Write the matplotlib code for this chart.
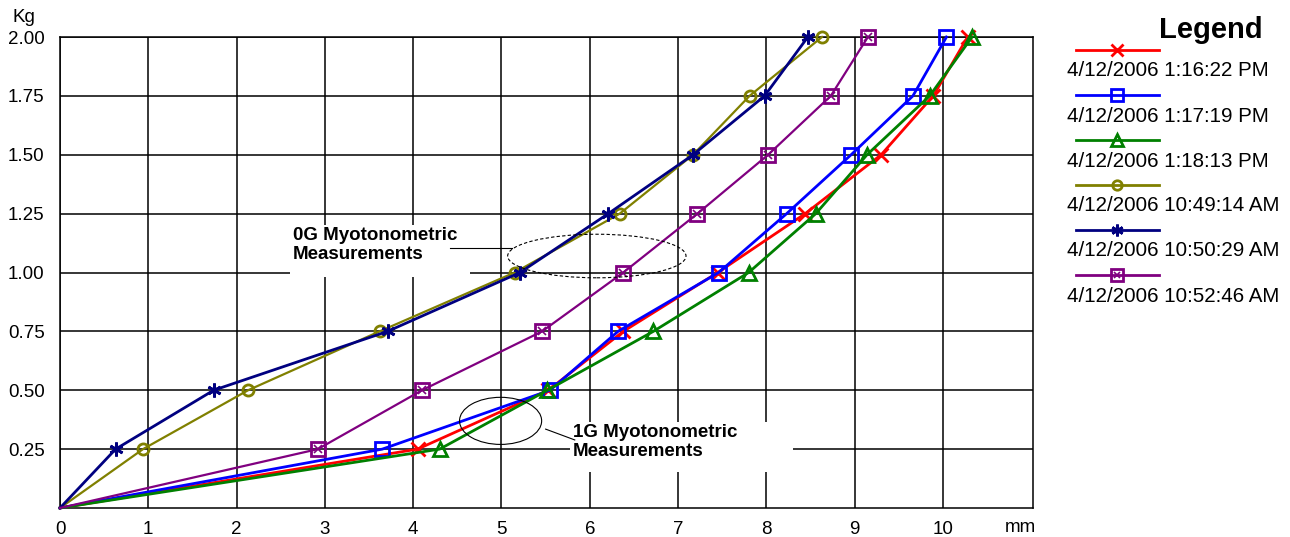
#!/usr/bin/env python
# -*- coding: utf-8 -*-
# Filename: plot.py

"""
DESCRIPTION:
Myotonometric force/displacement curves (Kg vs mm) for six
measurements, with 0G / 1G annotations and a custom legend.
"""

import matplotlib
matplotlib.use("Agg")
from matplotlib import pyplot as plt
from matplotlib.lines import Line2D
from matplotlib.patches import Ellipse, Rectangle

plt.rcParams["font.family"] = ["Liberation Sans", "DejaVu Sans"]

# Data:
kg = [0, 0.25, 0.50, 0.75, 1.00, 1.25, 1.50, 1.75, 2.00]
mm_1162 = [0, 4.05, 5.53, 6.38, 7.45, 8.44, 9.30, 9.89, 10.28]
mm_1719 = [0, 3.65, 5.55, 6.32, 7.46, 8.23, 8.96, 9.66, 10.04]
mm_1813 = [0, 4.30, 5.52, 6.72, 7.80, 8.56, 9.14, 9.85, 10.33]
mm_4914 = [0, 0.94, 2.13, 3.62, 5.15, 6.34, 7.17, 7.81, 8.63]
mm_5029 = [0, 0.63, 1.74, 3.71, 5.21, 6.21, 7.17, 7.98, 8.47]
mm_5246 = [0, 2.92, 4.10, 5.46, 6.38, 7.22, 8.02, 8.73, 9.15]

labels = ["4/12/2006 1:16:22 PM", "4/12/2006 1:17:19 PM",
	"4/12/2006 1:18:13 PM", "4/12/2006 10:49:14 AM",
	"4/12/2006 10:50:29 AM", "4/12/2006 10:52:46 AM"]

xticks = [0, 1, 2, 3, 4, 5, 6, 7, 8, 9, 10]
yticks = [0.25, 0.50, 0.75, 1.00, 1.25, 1.50, 1.75, 2.00]

# Styles per series: colour, marker, size, line width
styles = [
	("#FF0000", "x", 10, 2.0),
	("#0000FF", "s", 10, 2.0),
	("#008000", "^", 10, 2.0),
	("#808000", "o", 8, 1.6),
	("#000080", (6, 2, 0), 10, 2.0),
	("#800080", "s", 10, 1.6),
]
series = [mm_1162, mm_1719, mm_1813, mm_4914, mm_5029, mm_5246]

W, H = 1290., 537.

def px(x, y):
	"""Figure pixel (from top-left) -> figure fraction."""
	return x / W, 1 - y / H

fig = plt.figure(figsize=(W / 100, H / 100), dpi=100)
ax = fig.add_axes([60 / W, 29 / H, (1033 - 60) / W, (508 - 37) / H])

ax.set_xlim(0, 11.02)
ax.set_ylim(0, 2.0)
ax.set_xticks(xticks)
ax.set_yticks(yticks)
ax.set_yticklabels(["%.2f" % v for v in yticks])
ax.tick_params(length=0, labelsize=13.5)
ax.tick_params(axis="y", pad=11)
ax.tick_params(axis="x", pad=9)
ax.set_axisbelow(True)
ax.grid(True, color="black", lw=1.1)
for sp in ax.spines.values():
	sp.set_color("black")
	sp.set_linewidth(1.1)

# Curves
for xs, (col, mk, ms, lw) in zip(series, styles):
	ax.plot(xs, kg, color=col, lw=lw, marker=mk, ms=ms, mew=2,
		mfc="none", mec=col, markevery=list(range(1, len(kg))), zorder=3,
		clip_on=False)
# crossed squares for the last series
ax.plot(mm_5246, kg, ls="none", marker="x", ms=6, mew=1.2,
	color="#800080", markevery=list(range(1, len(kg))), zorder=3,
	clip_on=False)

# White boxes hiding the grid behind the annotations
ax.add_patch(Rectangle((2.6, 0.98), 2.04, 0.22, fc="white", ec="none",
	zorder=1))
ax.add_patch(Rectangle((5.78, 0.153), 2.52, 0.212, fc="white", ec="none",
	zorder=1))

# Annotations
ax.text(2.64, 1.117, "0G Myotonometric\nMeasurements", fontsize=13.5,
	fontweight="bold", va="center", ha="left", linespacing=1.2, zorder=4)
ax.add_patch(Ellipse((6.08, 1.07), 2.02, 0.185, fill=False, ec="black",
	lw=0.8, ls=(0, (3, 2)), zorder=4))
ax.plot([4.42, 5.12], [1.104, 1.104], color="black", lw=0.8, zorder=4)

ax.text(5.81, 0.28, "1G Myotonometric\nMeasurements", fontsize=13.5,
	fontweight="bold", va="center", ha="left", linespacing=1.2, zorder=4)
ax.add_patch(Ellipse((4.99, 0.37), 0.93, 0.2, fill=False, ec="black",
	lw=0.8, zorder=4))
ax.plot([5.5, 5.83], [0.335, 0.289], color="black", lw=0.8, zorder=4)

# Axis captions
fig.text(*px(12, 18), "Kg", fontsize=13.5, va="center", ha="left")
fig.text(*px(1020, 527), "mm", fontsize=13.5, va="center", ha="center")

# Legend (line above label, drawn by hand)
fig.text(*px(1211, 30), "Legend", fontsize=21, fontweight="bold",
	va="center", ha="center")
for i, (lab, (col, mk, ms, lw)) in enumerate(zip(labels, styles)):
	yl = 50 + 45 * i
	x0, y0 = px(1076, yl)
	x1, _ = px(1159, yl)
	xm, _ = px(1117, yl)
	fig.add_artist(Line2D([x0, x1], [y0, y0], color=col, lw=2,
		transform=fig.transFigure))
	fig.add_artist(Line2D([xm], [y0], color=col, marker=mk, ms=ms * 0.85,
		mew=2, mfc="none", transform=fig.transFigure))
	if i == 5:
		fig.add_artist(Line2D([xm], [y0], color=col, marker="x", ms=5,
			mew=1.2, transform=fig.transFigure))
	fig.text(*px(1067, yl + 21), lab, fontsize=14.8, va="center", ha="left")

fig.savefig("out.png", dpi=100)
